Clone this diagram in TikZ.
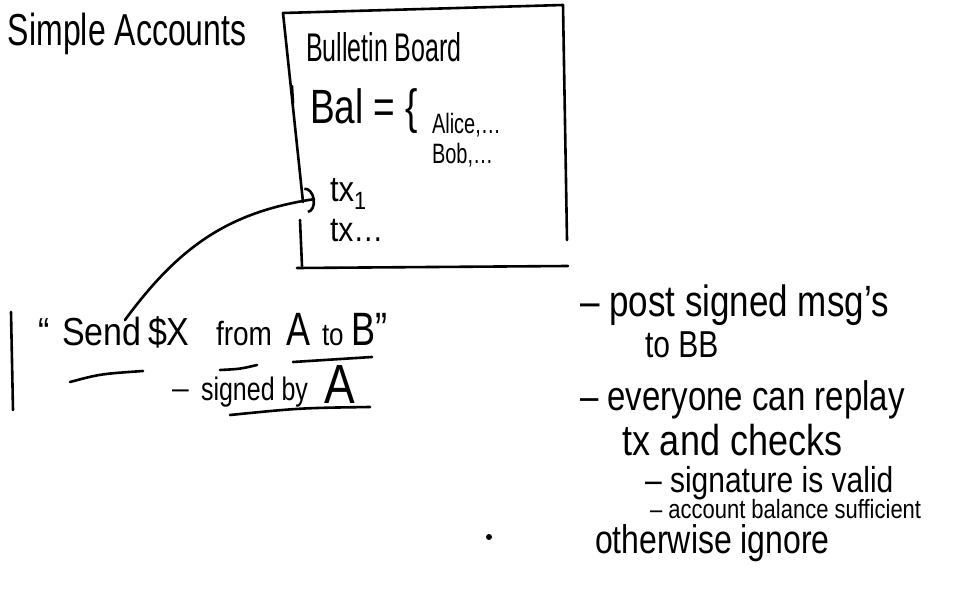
\documentclass[tikz,border=0pt]{standalone}
\usepackage{fontspec}
\usepackage{graphicx}
\setmainfont{Liberation Sans}
\usetikzlibrary{arrows.meta}
\newcommand{\fsz}[1]{\fontsize{#1}{#1}\selectfont}
\newcommand{\vs}[2]{\scalebox{1}[#1]{#2}}
\tikzset{
  txt/.style={anchor=base west, inner sep=0pt, outer sep=0pt},
  ink/.style={line width=2.6pt, line cap=round, line join=round},
}
\begin{document}
\begin{tikzpicture}[x=1pt,y=1pt]
\useasboundingbox (0,0) rectangle (965,-593);
% title
\node[txt, font=\fsz{32}] (title) at (8,-46) {\vs{1.4}{Simple Accounts}};
% bulletin board box
\draw[ink] (283,-13) -- (563,-5) -- (567,-240);
\draw[ink] (283,-13) -- (303,-202);
\draw[ink] (292,-86) -- (293,-103);
\draw[ink] (300,-220) -- (302,-266);
\draw[ink] (297,-268) -- (568,-266);
\node[txt, font=\fsz{25}] (bb) at (306,-62) {\vs{1.6}{Bulletin Board}};
\node[txt, font=\fsz{37}] (bal) at (310,-124) {\vs{1.3}{Bal = \{}};
\node[txt, font=\fsz{20}] (alice) at (432,-134) {\vs{1.4}{Alice,…}};
\node[txt, font=\fsz{20}] (bob) at (432,-164) {\vs{1.4}{Bob,…}};
\node[txt, font=\fsz{31}] (tx1) at (330,-202) {\vs{1.15}{tx\textsubscript{1}}};
\node[txt, font=\fsz{30}] (txn) at (330,-242) {\vs{1.15}{tx…}};
% message
\draw[ink] (11,-312) -- (13,-410);
\node[txt, font=\fsz{34}] (q1) at (38,-345) {\vs{1.15}{“}};
\node[txt, font=\fsz{34}] (send) at (62,-345) {\vs{1.15}{Send}};
\node[txt, font=\fsz{34}] (dx) at (148,-345) {\vs{1.15}{\$X}};
\node[txt, font=\fsz{28}] (from) at (216,-345) {\vs{1.2}{from}};
\node[txt, font=\fsz{36}] (a1) at (286,-345) {\vs{1.3}{A}};
\node[txt, font=\fsz{26}] (to) at (322,-345) {\vs{1.2}{to}};
\node[txt, font=\fsz{36}] (b1) at (351,-345) {\vs{1.3}{B”}};
\node[txt, font=\fsz{30}] (dash) at (172,-398) {–};
\node[txt, font=\fsz{25}] (sig) at (201,-400) {\vs{1.3}{signed by}};
\node[txt, font=\fsz{46}] (a2) at (324,-403) {\vs{1.2}{A}};
\draw[ink] (70,-382) .. controls (100,-374) .. (143,-371);
\draw[ink] (220,-370) .. controls (240,-369) .. (257,-365);
\draw[ink] (293,-362) -- (372,-357);
\draw[ink] (230,-415) .. controls (300,-408) .. (370,-407);
% connector
\coordinate (c0) at (125,-320);
\coordinate (c1) at (315,-199);
\draw[ink, -{Arc Barb[width=26pt,length=9pt,line width=2.6pt]}]
  (c0) .. controls (180,-245) and (230,-212) .. (c1);
% notes
\node[txt, font=\fsz{35}] (n1) at (580,-316) {\vs{1.25}{– post signed msg's}};
\node[txt, font=\fsz{30}] (n2) at (645,-357) {\vs{1.25}{to BB}};
\node[txt, font=\fsz{33}] (n3) at (580,-410) {\vs{1.25}{– everyone can replay}};
\node[txt, font=\fsz{36}] (n4) at (622,-455) {\vs{1.2}{tx and checks}};
\node[txt, font=\fsz{30}] (n5) at (645,-492) {\vs{1.2}{– signature is valid}};
\node[txt, font=\fsz{22}] (n6) at (650,-518) {\vs{1.2}{– account balance sufficient}};
\node[txt, font=\fsz{32}] (n7) at (595,-553) {\vs{1.25}{otherwise ignore}};
\fill (489,-537) circle (3);
\end{tikzpicture}
\end{document}
